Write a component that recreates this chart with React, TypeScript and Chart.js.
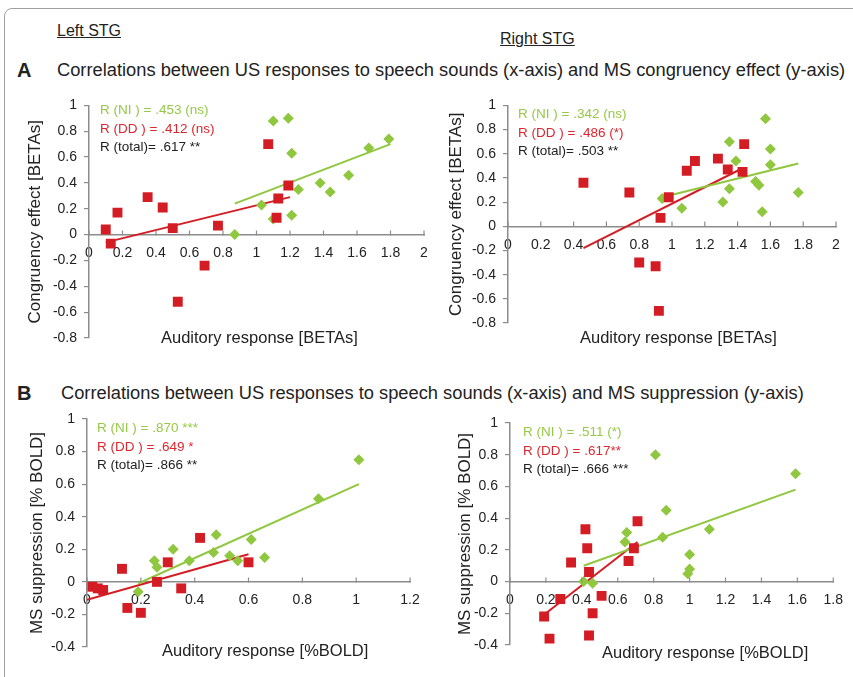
import React, { useEffect, useRef } from 'react';
import { Chart, registerables } from 'chart.js';
Chart.register(...registerables);

type Pt = [number, number];

// ---------- data ----------
const A_LEFT_NI: Pt[] = [[1.10, 0.88], [1.19, 0.90], [1.21, 0.63], [1.79, 0.74], [1.67, 0.67], [1.55, 0.46], [1.38, 0.40], [1.44, 0.33], [1.25, 0.35], [1.03, 0.23], [1.21, 0.15], [1.10, 0.12], [0.87, 0.0]];
const A_LEFT_DD: Pt[] = [[1.07, 0.70], [1.19, 0.38], [1.13, 0.28], [1.12, 0.13], [0.77, 0.07], [0.50, 0.05], [0.44, 0.21], [0.35, 0.29], [0.17, 0.17], [0.10, 0.04], [0.13, -0.07], [0.69, -0.24], [0.53, -0.52]];
const A_LEFT_NI_FIT: Pt[] = [[0.87, 0.24], [1.80, 0.70]];
const A_LEFT_DD_FIT: Pt[] = [[0.10, -0.06], [1.20, 0.29]];
const A_LEFT_STATS = ['R (NI ) = .453 (ns)', 'R (DD ) = .412 (ns)', 'R (total)= .617 **'];

const A_RIGHT_NI: Pt[] = [[1.57, 0.89], [1.35, 0.70], [1.60, 0.64], [1.39, 0.54], [1.60, 0.51], [1.51, 0.37], [1.53, 0.34], [1.35, 0.31], [1.31, 0.20], [1.77, 0.28], [1.55, 0.12], [1.06, 0.15], [0.94, 0.23]];
const A_RIGHT_DD: Pt[] = [[0.46, 0.36], [0.74, 0.28], [0.98, 0.24], [0.93, 0.07], [1.09, 0.46], [1.14, 0.54], [1.28, 0.56], [1.34, 0.47], [1.44, 0.68], [1.43, 0.45], [0.80, -0.30], [0.90, -0.33], [0.92, -0.70]];
const A_RIGHT_NI_FIT: Pt[] = [[0.94, 0.24], [1.77, 0.52]];
const A_RIGHT_DD_FIT: Pt[] = [[0.46, -0.18], [1.43, 0.48]];
const A_RIGHT_STATS = ['R (NI ) = .342 (ns)', 'R (DD ) = .486 (*)', 'R (total)= .503 **'];

const B_LEFT_NI: Pt[] = [[1.01, 0.75], [0.86, 0.51], [0.61, 0.26], [0.66, 0.15], [0.48, 0.29], [0.47, 0.18], [0.53, 0.16], [0.56, 0.13], [0.38, 0.13], [0.32, 0.20], [0.25, 0.13], [0.26, 0.09], [0.19, -0.06]];
const B_LEFT_DD: Pt[] = [[0.42, 0.27], [0.30, 0.12], [0.60, 0.12], [0.26, 0.0], [0.35, -0.04], [0.13, 0.08], [0.02, -0.03], [0.04, -0.04], [0.06, -0.05], [0.15, -0.16], [0.20, -0.19]];
const B_LEFT_NI_FIT: Pt[] = [[0.19, -0.01], [1.01, 0.60]];
const B_LEFT_DD_FIT: Pt[] = [[0.0, -0.11], [0.60, 0.17]];
const B_LEFT_STATS = ['R (NI ) = .870 ***', 'R (DD ) = .649 *', 'R (total)= .866 **'];

const B_RIGHT_NI: Pt[] = [[1.59, 0.68], [0.81, 0.80], [0.87, 0.45], [1.11, 0.33], [0.85, 0.28], [0.65, 0.31], [0.64, 0.25], [1.00, 0.17], [1.00, 0.08], [0.99, 0.05], [0.41, 0.0], [0.46, -0.01]];
const B_RIGHT_DD: Pt[] = [[0.71, 0.38], [0.42, 0.33], [0.43, 0.21], [0.69, 0.21], [0.66, 0.13], [0.34, 0.12], [0.44, 0.06], [0.51, -0.09], [0.28, -0.11], [0.46, -0.20], [0.19, -0.22], [0.22, -0.36], [0.44, -0.34]];
const B_RIGHT_NI_FIT: Pt[] = [[0.41, 0.10], [1.59, 0.58]];
const B_RIGHT_DD_FIT: Pt[] = [[0.20, -0.20], [0.71, 0.25]];
const B_RIGHT_STATS = ['R (NI ) = .511 (*)', 'R (DD ) = .617**', 'R (total)= .666 ***'];

const TITLE_A = 'Correlations between US responses to speech sounds (x-axis) and MS congruency effect (y-axis)';
const TITLE_B = 'Correlations between US responses to speech sounds (x-axis) and MS suppression (y-axis)';
const Y_TITLE_A = 'Congruency effect [BETAs]';
const Y_TITLE_B = 'MS suppression [% BOLD]';
const X_TITLE_A = 'Auditory response [BETAs]';
const X_TITLE_B = 'Auditory response [%BOLD]';

// ---------- styles ----------
const FONT = "'Liberation Sans', Arial, Helvetica, sans-serif";
const GREEN = '#8fc73e';
const RED = '#d41c24';
const GREEN_TXT = '#97c948';
const RED_TXT = '#dd2730';
const AXIS = '#8c8c8c';
const INK = '#222222';

const fmt = (v: any) => String(Math.round(Number(v) * 10) / 10);
const toXY = (arr: Pt[]) => arr.map(([x, y]) => ({ x, y }));

const upTicks = {
  id: 'upTicks',
  afterDraw(chart: any) {
    const xs = chart.scales.x;
    const ys = chart.scales.y;
    const y0 = Math.round(ys.getPixelForValue(0)) + 0.5;
    const ctx = chart.ctx;
    ctx.save();
    ctx.strokeStyle = AXIS;
    ctx.lineWidth = 1.2;
    xs.ticks.forEach((_t: any, i: number) => {
      const px = xs.getPixelForTick(i);
      ctx.beginPath();
      ctx.moveTo(px, y0);
      ctx.lineTo(px, y0 - 5);
      ctx.stroke();
    });
    ctx.restore();
  },
};

interface PanelCfg {
  left: number; top: number; width: number; height: number;
  pad: { top: number; right: number; bottom: number };
  yWidth: number; titlePad: number;
  xMax: number; yMin: number; yTitle: string;
  ni: Pt[]; dd: Pt[]; niFit: Pt[]; ddFit: Pt[];
}

const PANELS: PanelCfg[] = [
  { left: 0, top: 90, width: 440, height: 270, pad: { top: 13, right: 16, bottom: 22 }, yWidth: 89, titlePad: 25, xMax: 2, yMin: -0.8, yTitle: Y_TITLE_A, ni: A_LEFT_NI, dd: A_LEFT_DD, niFit: A_LEFT_NI_FIT, ddFit: A_LEFT_DD_FIT },
  { left: 430, top: 90, width: 423, height: 270, pad: { top: 15, right: 17, bottom: 37 }, yWidth: 78, titlePad: 16, xMax: 2, yMin: -0.8, yTitle: Y_TITLE_A, ni: A_RIGHT_NI, dd: A_RIGHT_DD, niFit: A_RIGHT_NI_FIT, ddFit: A_RIGHT_DD_FIT },
  { left: 0, top: 400, width: 430, height: 277, pad: { top: 19, right: 20, bottom: 30 }, yWidth: 87, titlePad: 27, xMax: 1.2, yMin: -0.4, yTitle: Y_TITLE_B, ni: B_LEFT_NI, dd: B_LEFT_DD, niFit: B_LEFT_NI_FIT, ddFit: B_LEFT_DD_FIT },
  { left: 430, top: 400, width: 423, height: 277, pad: { top: 23, right: 16, bottom: 32 }, yWidth: 80, titlePad: 25, xMax: 1.8, yMin: -0.4, yTitle: Y_TITLE_B, ni: B_RIGHT_NI, dd: B_RIGHT_DD, niFit: B_RIGHT_NI_FIT, ddFit: B_RIGHT_DD_FIT },
];

function Panel({ cfg }: { cfg: PanelCfg }) {
  const ref = useRef<HTMLCanvasElement>(null);
  useEffect(() => {
    const chart = new Chart(ref.current as HTMLCanvasElement, {
      type: 'scatter',
      data: {
        datasets: [
          { data: toXY(cfg.dd), pointStyle: 'rect', pointRadius: 7, backgroundColor: RED, borderWidth: 0, order: 0 } as any,
          { data: toXY(cfg.ni), pointStyle: 'rectRot', pointRadius: 5.5, backgroundColor: GREEN, borderWidth: 0, order: 1 } as any,
          { data: toXY(cfg.niFit), showLine: true, borderColor: GREEN, borderWidth: 2, pointRadius: 0, order: 2 } as any,
          { data: toXY(cfg.ddFit), showLine: true, borderColor: RED, borderWidth: 2, pointRadius: 0, order: 3 } as any,
        ],
      },
      options: {
        responsive: false,
        animation: false,
        events: [],
        layout: { padding: { left: 0, top: cfg.pad.top, right: cfg.pad.right, bottom: cfg.pad.bottom } },
        plugins: { legend: { display: false }, tooltip: { enabled: false } },
        scales: {
          x: {
            type: 'linear',
            position: { y: 0 } as any,
            min: 0,
            max: cfg.xMax,
            ticks: { stepSize: 0.2, autoSkip: false, maxRotation: 0, padding: 10, color: INK, font: { family: FONT, size: 14 }, callback: fmt },
            grid: { display: true, drawOnChartArea: false, drawTicks: false },
            border: { display: true, color: AXIS, width: 1.5 },
          },
          y: {
            type: 'linear',
            position: 'left',
            min: cfg.yMin,
            max: 1,
            afterFit: (s: any) => { s.width = cfg.yWidth; },
            ticks: { stepSize: 0.2, padding: 7, color: INK, font: { family: FONT, size: 14 }, callback: fmt },
            grid: { drawOnChartArea: false, drawTicks: true, tickLength: 5, color: AXIS, lineWidth: 1.2 },
            border: { display: true, color: AXIS, width: 1.5 },
            title: { display: true, text: cfg.yTitle, color: INK, font: { family: FONT, size: 17 }, padding: { top: cfg.titlePad, bottom: 0 } },
          },
        },
      } as any,
      plugins: [upTicks],
    });
    return () => chart.destroy();
  }, []);
  return (
    <canvas
      ref={ref}
      width={cfg.width}
      height={cfg.height}
      style={{ position: 'absolute', left: cfg.left, top: cfg.top, width: cfg.width, height: cfg.height }}
    />
  );
}

function Txt({ x, y, size, color = INK, bold = false, underline = false, children }: any) {
  return (
    <div
      style={{
        position: 'absolute', left: x, top: y - size / 2, fontSize: size, lineHeight: `${size}px`,
        fontFamily: FONT, color, fontWeight: bold ? 700 : 400, whiteSpace: 'nowrap',
        textDecoration: underline ? 'underline' : 'none',
      }}
    >
      {children}
    </div>
  );
}

function Stats({ x, y, lines }: { x: number; y: number; lines: string[] }) {
  const colors = [GREEN_TXT, RED_TXT, INK];
  return (
    <>
      {lines.map((t, i) => (
        <Txt key={i} x={x} y={y + i * 18.5} size={13.5} color={colors[i]}>{t}</Txt>
      ))}
    </>
  );
}

export default function App() {
  return (
    <div style={{ position: 'fixed', left: 0, top: 0, width: 853, height: 677, overflow: 'hidden', background: '#fff' }}>
      <div style={{ position: 'absolute', left: 4, top: 8, width: 900, height: 720, border: '1.5px solid #a0a0a0', borderRadius: 8 }} />
      <Txt x={57} y={31} size={16} underline>Left STG</Txt>
      <Txt x={500} y={39} size={16} underline>Right STG</Txt>
      <Txt x={17} y={70} size={20} bold>A</Txt>
      <Txt x={57} y={70} size={18.3}>{TITLE_A}</Txt>
      <Txt x={17} y={393} size={20} bold>B</Txt>
      <Txt x={61} y={393} size={18.3}>{TITLE_B}</Txt>
      {PANELS.map((p, i) => <Panel key={i} cfg={p} />)}
      <Stats x={100} y={110} lines={A_LEFT_STATS} />
      <Stats x={518} y={114} lines={A_RIGHT_STATS} />
      <Stats x={97} y={428} lines={B_LEFT_STATS} />
      <Stats x={523} y={432} lines={B_RIGHT_STATS} />
      <Txt x={161} y={337} size={16.5}>{X_TITLE_A}</Txt>
      <Txt x={580} y={337} size={16.5}>{X_TITLE_A}</Txt>
      <Txt x={162} y={650} size={16.5}>{X_TITLE_B}</Txt>
      <Txt x={602} y={652} size={16.5}>{X_TITLE_B}</Txt>
    </div>
  );
}
